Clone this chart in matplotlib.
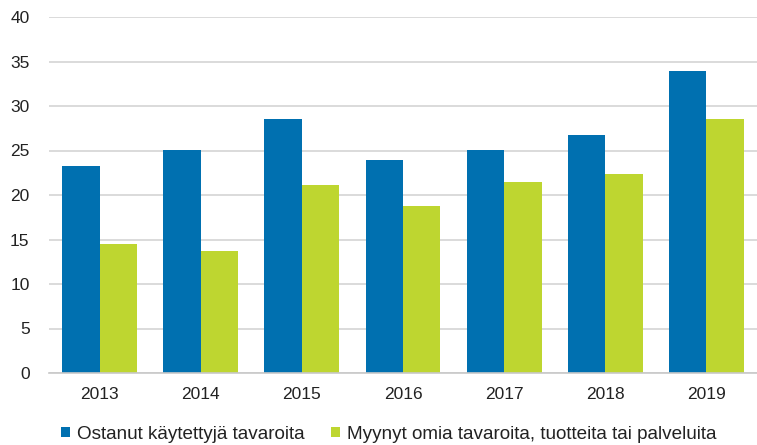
import numpy as np
import matplotlib.pyplot as plt

plt.rcParams['font.family'] = ['Liberation Sans', 'DejaVu Sans']

years = ["2013", "2014", "2015", "2016", "2017", "2018", "2019"]
bought_used = [23.3, 25.1, 28.5, 23.9, 25.1, 26.7, 33.9]
sold_own = [14.5, 13.7, 21.1, 18.8, 21.5, 22.4, 28.5]
labels = ["Ostanut käytettyjä tavaroita",
          "Myynyt omia tavaroita, tuotteita tai palveluita"]

blue = "#0070B0"
green = "#BED630"

fig = plt.figure(figsize=(7.57, 4.45), dpi=100)
ax = fig.add_axes([49 / 757, 1 - 373 / 445, 708 / 757, 356 / 445])

x = np.arange(len(years))
w = 0.37
ax.bar(x - w / 2, bought_used, w, color=blue, label=labels[0])
ax.bar(x + w / 2, sold_own, w, color=green, label=labels[1])

ax.set_ylim(0, 40)
ax.set_xlim(-0.5, len(years) - 0.5)
ax.set_yticks(range(0, 41, 5))
ax.set_xticks(x)
ax.set_xticklabels(years)
ax.yaxis.grid(True, color="#d4d4d4", linewidth=1.2)
ax.set_axisbelow(True)
for s in ["top", "right", "left"]:
    ax.spines[s].set_visible(False)
ax.spines["bottom"].set_color("#c8c8c8")
ax.spines["bottom"].set_linewidth(1.2)
ax.tick_params(axis="both", length=0, labelsize=12.5, colors="#222222")
ax.tick_params(axis="x", pad=10)
ax.tick_params(axis="y", pad=14)

fig.legend(loc="center left", bbox_to_anchor=(61 / 757, 0.024), ncol=2,
           frameon=False, fontsize=13.6, borderpad=0, borderaxespad=0,
           handlelength=0.45, handleheight=0.45, handletextpad=0.4,
           columnspacing=1.4, labelcolor="#222222")

fig.savefig("out.png", dpi=100)
